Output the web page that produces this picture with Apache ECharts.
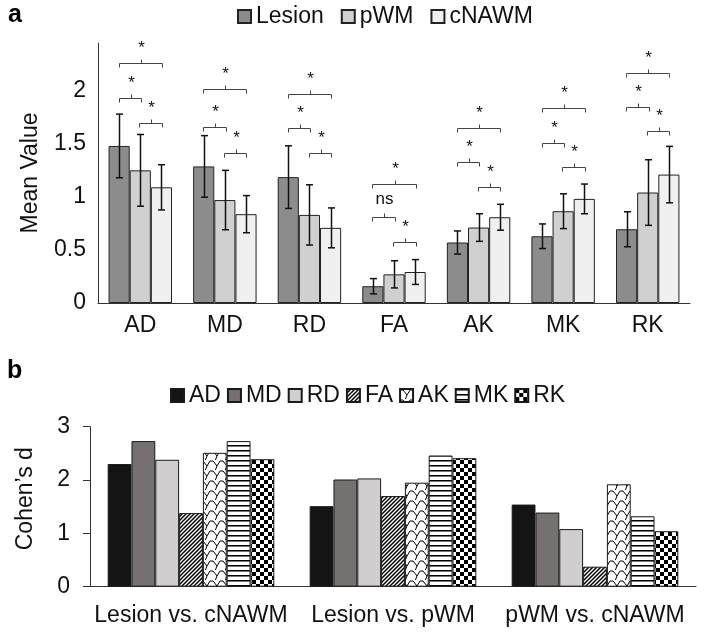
<!DOCTYPE html>
<html><head><meta charset="utf-8">
<script src="https://cdn.jsdelivr.net/npm/echarts@6/dist/echarts.min.js"></script>
<style>html,body{margin:0;padding:0;background:#fff}#c{width:704px;height:634px}</style>
</head><body><div id="c"></div>
<script>
// ---------- Panel a data ----------
const metricsA = ['AD', 'MD', 'RD', 'FA', 'AK', 'MK', 'RK'];
const groupsA = ['Lesion', 'pWM', 'cNAWM'];
const lesionMean = [1.48, 1.287, 1.186, 0.158, 0.57, 0.629, 0.695];
const pwmMean = [1.25, 0.97, 0.83, 0.27, 0.711, 0.865, 1.041];
const cnawmMean = [1.09, 0.837, 0.708, 0.292, 0.808, 0.981, 1.21];
const lesionSD = [0.30, 0.29, 0.295, 0.072, 0.109, 0.116, 0.165];
const pwmSD = [0.338, 0.28, 0.284, 0.128, 0.13, 0.164, 0.309];
const cnawmSD = [0.213, 0.175, 0.188, 0.117, 0.122, 0.14, 0.266];
// significance brackets (height in value units) and labels
const bracketLesionPwm = [1.934, 1.66, 1.651, 0.811, 1.325, 1.509, 1.849];
const bracketPwmCnawm = [1.70, 1.415, 1.409, 0.575, 1.094, 1.283, 1.62];
const bracketLesionCnawm = [2.26, 2.02, 1.969, 1.126, 1.65, 1.834, 2.17];
const labelLesionPwm = ['*', '*', '*', 'ns', '*', '*', '*'];
const labelPwmCnawm = ['*', '*', '*', '*', '*', '*', '*'];
const labelLesionCnawm = ['*', '*', '*', '*', '*', '*', '*'];
const yTicksA = [0, 0.5, 1, 1.5, 2];

// ---------- Panel b data ----------
const comparisonsB = ['Lesion vs. cNAWM', 'Lesion vs. pWM', 'pWM vs. cNAWM'];
const metricsB = ['AD', 'MD', 'RD', 'FA', 'AK', 'MK', 'RK'];
const dAD = [2.30, 1.51, 1.54];
const dMD = [2.73, 2.01, 1.39];
const dRD = [2.38, 2.03, 1.08];
const dFA = [1.38, 1.70, 0.375];
const dAK = [2.51, 1.95, 1.92];
const dMK = [2.73, 2.46, 1.32];
const dRK = [2.39, 2.41, 1.04];
const yTicksB = [0, 1, 2, 3];

const FONT = '"Liberation Sans", Arial, sans-serif';
const FS = 23;

// ---------- patterns ----------
function tile(w, h, draw) {
  const c = document.createElement('canvas');
  c.width = w; c.height = h;
  const g = c.getContext('2d');
  g.fillStyle = '#fff'; g.fillRect(0, 0, w, h);
  draw(g);
  return { image: c, repeat: 'repeat' };
}
const patFA = tile(4, 4, g => {
  g.strokeStyle = '#000'; g.lineWidth = 1.5;
  g.beginPath();
  g.moveTo(-1, 5); g.lineTo(5, -1);
  g.moveTo(-3, 3); g.lineTo(3, -3);
  g.moveTo(1, 7); g.lineTo(7, 1);
  g.stroke();
});
const patAK = tile(10, 10, g => {
  g.strokeStyle = '#000'; g.lineWidth = 1;
  g.beginPath();
  g.moveTo(0, 1); g.lineTo(3, 1); g.lineTo(7, 6); g.lineTo(10, 1);
  g.moveTo(7, 6); g.lineTo(5, 11);
  g.moveTo(5, -1); g.lineTo(5, -1);
  g.stroke();
});
const patMK = tile(4, 5, g => {
  g.fillStyle = '#000'; g.fillRect(0, 0, 4, 1);
  g.fillStyle = '#777'; g.fillRect(0, 1, 4, 1);
});
const patRK = tile(8, 8, g => {
  g.fillStyle = '#000'; g.fillRect(0, 0, 4, 4); g.fillRect(4, 4, 4, 4);
});

// ---------- custom renderers ----------
function renderErr(params, api) {
  const i = api.value(0), gi = api.value(1), m = api.value(2), sd = api.value(3);
  const band = api.size([1, 0])[0];
  const x = Math.round(api.coord([i, m])[0] + (gi - 1) * band * 0.25) + 0.5;
  const yh = api.coord([i, m + sd])[1], yl = api.coord([i, m - sd])[1];
  const w = 3.5, st = { stroke: '#111', lineWidth: 1.5 };
  return { type: 'group', children: [
    { type: 'line', shape: { x1: x, y1: yh, x2: x, y2: yl }, style: st },
    { type: 'line', shape: { x1: x - w, y1: yh, x2: x + w, y2: yh }, style: st },
    { type: 'line', shape: { x1: x - w, y1: yl, x2: x + w, y2: yl }, style: st }
  ]};
}
const errData = [];
[[lesionMean, lesionSD], [pwmMean, pwmSD], [cnawmMean, cnawmSD]].forEach((p, gi) => {
  p[0].forEach((m, i) => errData.push([i, gi, m, p[1][i]]));
});

const brData = [], brLabels = [];
metricsA.forEach((_, i) => {
  brData.push([i, bracketLesionPwm[i], 0]); brLabels.push(labelLesionPwm[i]);
  brData.push([i, bracketPwmCnawm[i], 1]); brLabels.push(labelPwmCnawm[i]);
  brData.push([i, bracketLesionCnawm[i], 2]); brLabels.push(labelLesionCnawm[i]);
});
function renderBracket(params, api) {
  const i = api.value(0), y = api.value(1), kind = api.value(2);
  const band = api.size([1, 0])[0];
  const c = api.coord([i, y]);
  let x1, x2;
  if (kind === 0) { x1 = c[0] - 0.255 * band; x2 = c[0] + 0.01 * band; }
  else if (kind === 1) { x1 = c[0] - 0.01 * band; x2 = c[0] + 0.255 * band; }
  else { x1 = c[0] - 0.255 * band; x2 = c[0] + 0.255 * band; }
  x1 = Math.round(x1) + 0.5; x2 = Math.round(x2) + 0.5;
  const yy = Math.round(c[1]) + 0.5;
  const xm = Math.round((x1 + x2) / 2) + 0.5;
  const label = brLabels[params.dataIndex];
  const st = { stroke: '#444', lineWidth: 1, fill: null };
  return { type: 'group', children: [
    { type: 'polyline', shape: { points: [[x1, yy + 4], [x1, yy], [x2, yy], [x2, yy + 4]] }, style: st },
    { type: 'line', shape: { x1: xm, y1: yy, x2: xm, y2: yy - 4 }, style: st },
    { type: 'text', x: xm, y: yy - (label === 'ns' ? 18 : 15.5),
      style: { text: label, fill: '#111', fontSize: 17, fontFamily: FONT, align: 'center', verticalAlign: 'middle' } }
  ]};
}

const colorsA = ['#8c8c8c', '#d0d0d0', '#f0f0f0'];
const colorsB = ['#141414', '#767171', '#d0cece', patFA, patAK, patMK, patRK];
const valsA = [lesionMean, pwmMean, cnawmMean];
const valsB = [dAD, dMD, dRD, dFA, dAK, dMK, dRK];

const axisLabelStyle = { color: '#111', fontSize: FS, fontFamily: FONT };

const series = [];
groupsA.forEach((g, k) => series.push({
  name: g, type: 'bar', xAxisIndex: 0, yAxisIndex: 0, data: valsA[k],
  barGap: '0%', barCategoryGap: '25%',
  itemStyle: { color: colorsA[k], borderColor: '#222', borderWidth: 1 }
}));
series.push({ type: 'custom', xAxisIndex: 0, yAxisIndex: 0, renderItem: renderErr, data: errData, encode: { x: 0, y: 2 }, z: 5, silent: true });
series.push({ type: 'custom', xAxisIndex: 0, yAxisIndex: 0, renderItem: renderBracket, data: brData, encode: { x: 0, y: 1 }, z: 5, silent: true });
metricsB.forEach((m, k) => series.push({
  name: m, type: 'bar', xAxisIndex: 1, yAxisIndex: 1, data: valsB[k],
  barGap: '0%', barCategoryGap: '17.5%',
  itemStyle: { color: colorsB[k], borderColor: '#1a1a1a', borderWidth: 1 }
}));

const chart = echarts.init(document.getElementById('c'), null, { renderer: 'canvas' });
chart.setOption({
  animation: false,
  backgroundColor: '#fff',
  textStyle: { fontFamily: FONT },
  legend: [
    { data: groupsA, left: 232, top: 0, icon: 'rect', itemWidth: 13, itemHeight: 13, itemGap: 17,
      textStyle: { fontSize: FS, color: '#111', fontFamily: FONT } },
    { data: metricsB, left: 165, top: 379, icon: 'rect', itemWidth: 13, itemHeight: 13, itemGap: 6,
      textStyle: { fontSize: FS, color: '#111', fontFamily: FONT } }
  ],
  grid: [
    { left: 98, right: 14, top: 43, bottom: 331, containLabel: false },
    { left: 90, right: 8, top: 426.7, bottom: 47.3, containLabel: false }
  ],
  xAxis: [
    { type: 'category', gridIndex: 0, data: metricsA,
      axisLine: { lineStyle: { color: '#333', width: 1 } }, axisTick: { show: false },
      axisLabel: Object.assign({ margin: 11, interval: 0 }, axisLabelStyle) },
    { type: 'category', gridIndex: 1, data: comparisonsB,
      axisLine: { lineStyle: { color: '#333', width: 1 } }, axisTick: { show: false },
      axisLabel: Object.assign({ margin: 17, interval: 0, hideOverlap: false }, axisLabelStyle) }
  ],
  yAxis: [
    { type: 'value', gridIndex: 0, min: yTicksA[0], max: 2.45, interval: 0.5,
      axisLine: { show: true, lineStyle: { color: '#333', width: 1 } }, axisTick: { show: false },
      splitLine: { show: false },
      axisLabel: Object.assign({ margin: 12, showMaxLabel: false }, axisLabelStyle),
      name: 'Mean Value', nameLocation: 'middle', nameGap: 56,
      nameTextStyle: { fontSize: FS, color: '#111', fontFamily: FONT } },
    { type: 'value', gridIndex: 1, min: yTicksB[0], max: yTicksB[yTicksB.length - 1], interval: 1,
      axisLine: { show: true, lineStyle: { color: '#333', width: 1 } },
      axisTick: { show: true, inside: false, length: 7, lineStyle: { color: '#333' } },
      splitLine: { show: false },
      axisLabel: Object.assign({ margin: 20 }, axisLabelStyle),
      name: 'Cohen’s d', nameLocation: 'middle', nameGap: 53,
      nameTextStyle: { fontSize: FS, color: '#111', fontFamily: FONT, padding: [0, 0, 0, 16] } }
  ],
  graphic: [
    { type: 'text', left: 8, top: 3, style: { text: 'a', fontSize: 25, fontWeight: 'bold', fill: '#000', fontFamily: FONT } },
    { type: 'text', left: 7, top: 359, style: { text: 'b', fontSize: 25, fontWeight: 'bold', fill: '#000', fontFamily: FONT } }
  ],
  series: series
});
</script>
</body></html>
